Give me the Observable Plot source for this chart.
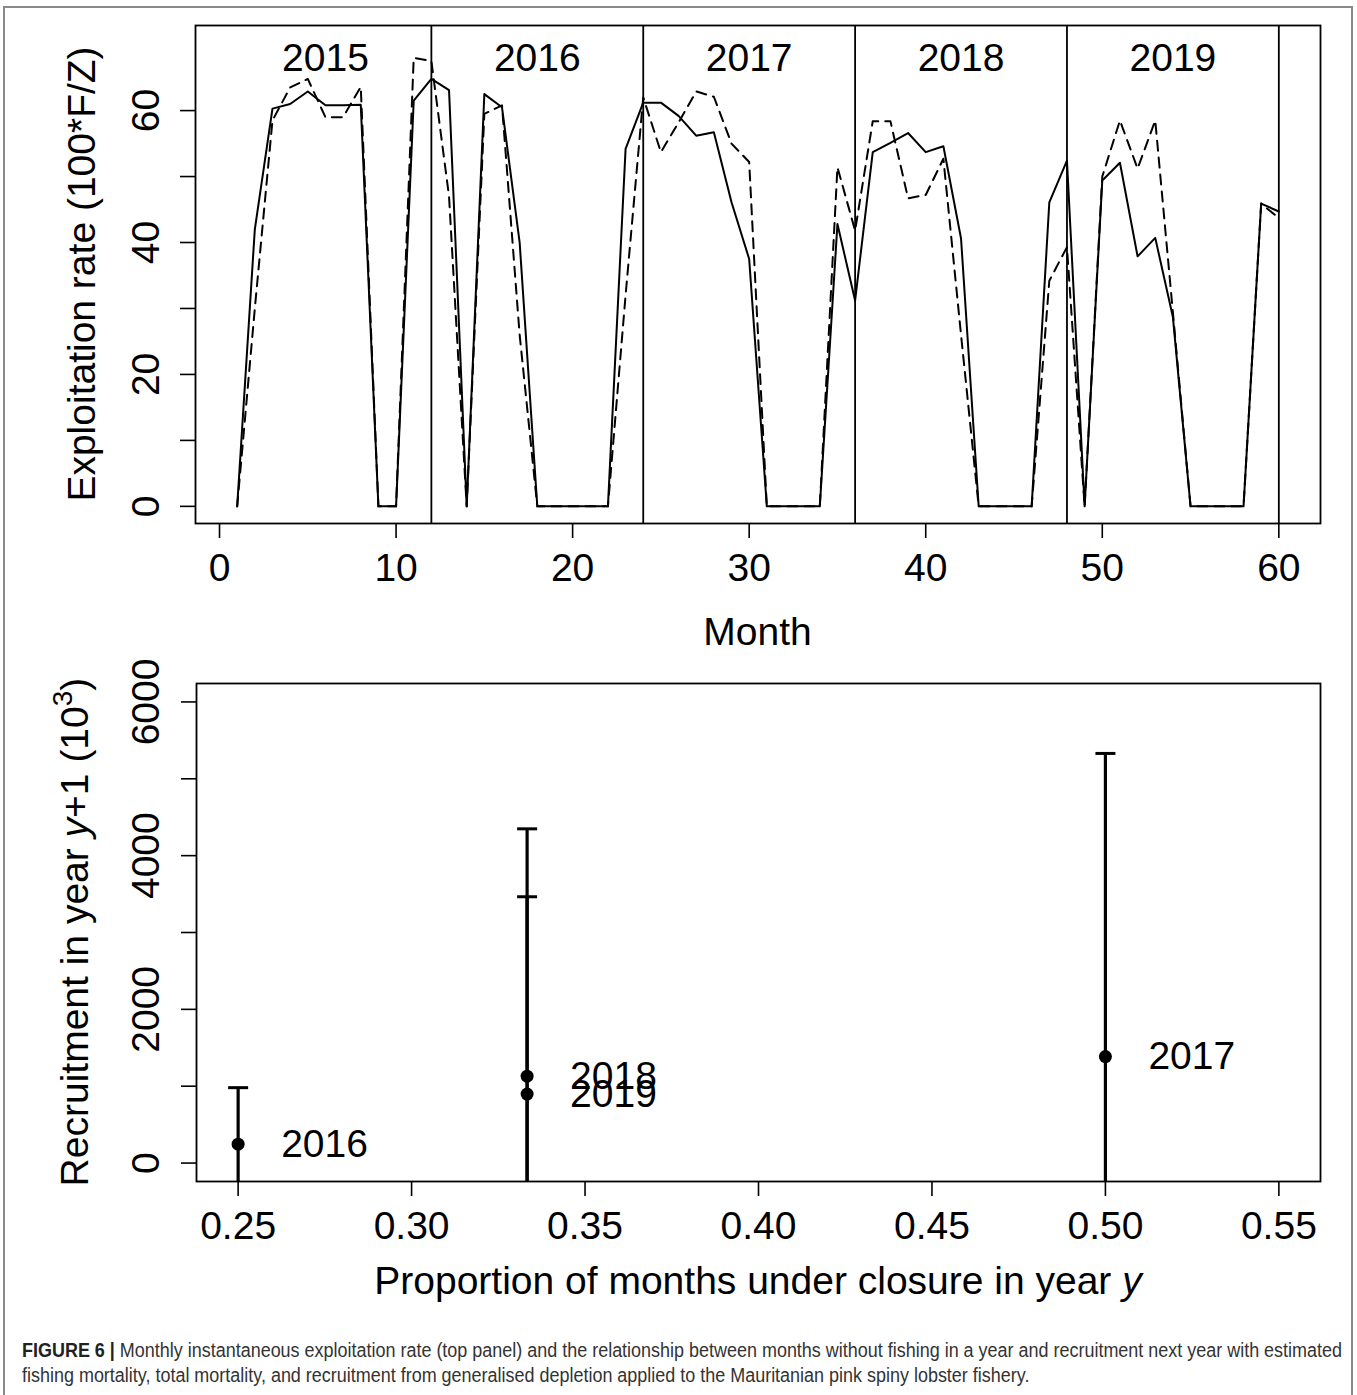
<!DOCTYPE html>
<html><head><meta charset="utf-8">
<script src="https://cdn.jsdelivr.net/npm/d3@7"></script>
<script src="https://cdn.jsdelivr.net/npm/@observablehq/plot@0.6"></script>
<style>
html,body{margin:0;padding:0;background:#fff;}
#page{position:relative;width:1357px;height:1395px;overflow:hidden;background:#fff;}
#border{position:absolute;left:3px;top:6px;width:1350px;height:1440px;border:2px solid #8a8a8a;box-sizing:border-box;z-index:10;pointer-events:none;}
#top,#bottom{position:absolute;left:0;}
#top{top:0px;}
#bottom{top:660px;}
.cap{position:absolute;left:22px;font-family:"Liberation Sans Narrow","Liberation Sans",Arial,sans-serif;font-size:20px;color:#333;white-space:nowrap;transform-origin:0 0;line-height:23px;}
.cap b{color:#222;}
</style></head>
<body>
<div id="page">
  <div id="top"></div>
  <div id="bottom"></div>
  <div class="cap" id="cap1" style="top:1339px"><b>FIGURE 6 |</b> Monthly instantaneous exploitation rate (top panel) and the relationship between months without fishing in a year and recruitment next year with estimated</div>
  <div class="cap" id="cap2" style="top:1364px">fishing mortality, total mortality, and recruitment from generalised depletion applied to the Mauritanian pink spiny lobster fishery.</div>
  <div id="border"></div>
</div>
<script>
// ---------- Top panel data ----------
const months = d3.range(1, 61);
const fishingRate = [0, 42, 60.3, 61.0, 62.9, 60.8, 60.8, 60.9, 0, 0, 61.5, 64.8,
  63.1, 0, 62.5, 60.5, 40.0, 0, 0, 0, 0, 0, 54.2, 61.2,
  61.2, 59.2, 56.2, 56.7, 46.1, 37.5, 0, 0, 0, 0, 42.8, 31.2,
  53.7, 55.1, 56.6, 53.7, 54.6, 40.6, 0, 0, 0, 0, 46.1, 52.4,
  0, 49.4, 52.1, 37.9, 40.7, 28.7, 0, 0, 0, 0, 45.9, 44.7];
const totalRate = [0, 30, 58.5, 63.5, 64.8, 59.0, 59.0, 63.6, 0, 0, 68.0, 67.5,
  47, 0, 59.5, 60.8, 26, 0, 0, 0, 0, 0, 32, 62,
  53.7, 58.2, 62.9, 62.1, 55.0, 52.2, 0, 0, 0, 0, 51.4, 41.8,
  58.4, 58.4, 46.7, 47.2, 52.7, 26, 0, 0, 0, 0, 34.2, 39.3,
  0, 50.0, 58.5, 51.2, 58.5, 29.4, 0, 0, 0, 0, 45.9, 43.7];
const yearLabels = ["2015", "2016", "2017", "2018", "2019"];
const yearBounds = [12, 24, 36, 48, 60];
const monthTicks = [0, 10, 20, 30, 40, 50, 60];
const rateTicks = [0, 10, 20, 30, 40, 50, 60];
const rateLabels = [0, 20, 40, 60];

// ---------- Bottom panel data ----------
const recYears = ["2016", "2017", "2018", "2019"];
const closureProp = [0.25, 0.5, 0.3333, 0.3333];
const recruitEst = [246, 1386, 1130, 898];
const recruitUpper = [981, 5330, 4349, 3465];
const recruitLower = [-489, -2558, -2089, -1669];
const propTicks = [0.25, 0.30, 0.35, 0.40, 0.45, 0.50, 0.55];
const recTicks = [0, 1000, 2000, 3000, 4000, 5000, 6000];
const recLabels = [0, 2000, 4000, 6000];

const FONT = "'Liberation Sans', Arial, Helvetica, sans-serif";
const FS = 39;

const rows = months.map((m, i) => ({month: m, F: fishingRate[i], Z: totalRate[i]}));
const yearStarts = [0, ...yearBounds.slice(0, -1)];
const yearRows = yearLabels.map((y, i) => ({label: y, mid: (yearStarts[i] + yearBounds[i]) / 2}));

const topPlot = Plot.plot({
  width: 1357, height: 660,
  marginLeft: 195, marginRight: 37, marginTop: 25, marginBottom: 137,
  x: {domain: [-1.36, 62.36]},
  y: {domain: [-2.6, 72.9]},
  style: {fontFamily: FONT, fontSize: FS + "px", background: "white", color: "black", overflow: "visible"},
  marks: [
    Plot.ruleX(yearBounds, {stroke: "black", strokeWidth: 1.8}),
    Plot.line(rows, {x: "month", y: "Z", stroke: "black", strokeWidth: 2, strokeDasharray: "10,7"}),
    Plot.line(rows, {x: "month", y: "F", stroke: "black", strokeWidth: 2}),
    Plot.text(yearRows, {x: "mid", text: "label", frameAnchor: "top", dy: 33.5, lineAnchor: "middle", fontSize: FS}),
    Plot.axisX({ticks: monthTicks, tickSize: 15, tickPadding: 15, label: null, fontSize: FS, strokeWidth: 1.6}),
    Plot.axisY({ticks: rateTicks, tickSize: 15, tickFormat: () => "", label: null, strokeWidth: 1.6}),
    Plot.text(rateLabels, {y: d => d, text: d => String(d), frameAnchor: "left", dx: -37, rotate: -90, lineAnchor: "bottom", textAnchor: "middle", fontSize: FS}),
    Plot.frame({stroke: "black", strokeWidth: 1.8})
  ]
});
document.getElementById("top").appendChild(topPlot);

const recRows = recYears.map((y, i) => ({year: y, p: closureProp[i], est: recruitEst[i], hi: recruitUpper[i], lo: recruitLower[i]}));
const capSymbol = {draw(ctx, size) { const r = Math.sqrt(size / Math.PI); ctx.moveTo(-r, 0); ctx.lineTo(r, 0); }};

const botPlot = Plot.plot({
  width: 1357, height: 650,
  marginLeft: 196, marginRight: 37, marginTop: 23, marginBottom: 129,
  x: {domain: [0.238, 0.562]},
  y: {domain: [-240, 6240]},
  style: {fontFamily: FONT, fontSize: FS + "px", background: "white", color: "black", overflow: "visible"},
  marks: [
    Plot.ruleX(recRows, {x: "p", y1: "lo", y2: "hi", stroke: "black", strokeWidth: 3.2, clip: true}),
    Plot.dot(recRows, {x: "p", y: "hi", symbol: capSymbol, r: 10, stroke: "black", strokeWidth: 3, fill: "none"}),
    Plot.dot(recRows, {x: "p", y: "est", r: 6.5, fill: "black", stroke: "none"}),
    Plot.text(recRows, {x: "p", y: "est", text: "year", dx: 43, textAnchor: "start", lineAnchor: "middle", fontSize: FS}),
    Plot.axisX({ticks: propTicks, tickFormat: d3.format(".2f"), tickSize: 15, tickPadding: 15, label: null, fontSize: FS, strokeWidth: 1.6}),
    Plot.axisY({ticks: recTicks, tickSize: 15, tickFormat: () => "", label: null, strokeWidth: 1.6}),
    Plot.text(recLabels, {y: d => d, text: d => String(d), frameAnchor: "left", dx: -38, rotate: -90, lineAnchor: "bottom", textAnchor: "middle", fontSize: FS}),
    Plot.frame({stroke: "black", strokeWidth: 1.8})
  ]
});
document.getElementById("bottom").appendChild(botPlot);

// ---------- Axis titles (with italic / superscript parts) ----------
function addText(svg, x, y, rotate, parts) {
  const t = d3.select(svg).append("text")
    .attr("transform", `translate(${x},${y})` + (rotate ? ` rotate(${rotate})` : ""))
    .attr("text-anchor", "middle")
    .attr("font-family", FONT)
    .attr("font-size", FS)
    .attr("fill", "black");
  for (const p of parts) {
    const s = t.append("tspan").text(p.text);
    if (p.italic) s.attr("font-style", "italic");
    if (p.sup) s.attr("font-size", FS * 0.72).attr("dy", -FS * 0.42);
    if (p.down) s.attr("dy", FS * 0.42);
  }
}
addText(topPlot, 757.5, 645, 0, [{text: "Month"}]);
addText(topPlot, 95, 274, -90, [{text: "Exploitation rate (100*F/Z)"}]);
addText(botPlot, 758, 634, 0, [{text: "Proportion of months under closure in year "}, {text: "y", italic: true}]);
addText(botPlot, 88, 272, -90, [
  {text: "Recruitment in year "}, {text: "y", italic: true}, {text: "+1 (10"},
  {text: "3", sup: true}, {text: ")", down: true}
]);

// ---------- Caption fit ----------
const c1 = document.getElementById("cap1"), c2 = document.getElementById("cap2");
const w = c1.getBoundingClientRect().width;
const k = 1320 / w;
c1.style.transform = `scaleX(${k})`;
c2.style.transform = `scaleX(${k})`;
</script>
</body></html>
